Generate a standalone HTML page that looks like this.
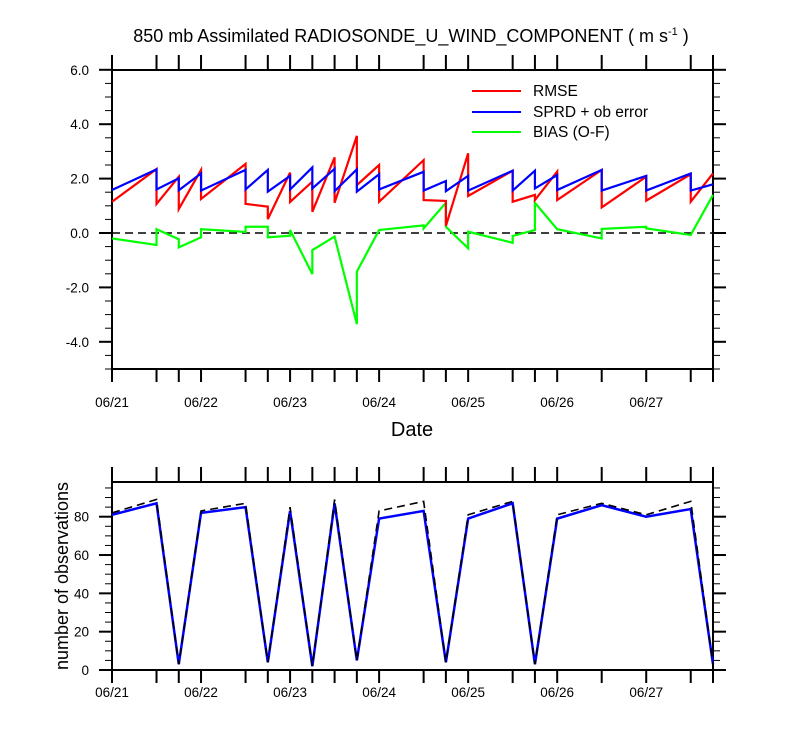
<!DOCTYPE html>
<html><head><meta charset="utf-8"><style>
html,body{margin:0;padding:0;background:#fff;}
svg{display:block;font-family:"Liberation Sans",Arial,sans-serif;}
</style></head><body>
<svg id="c" width="800" height="750" viewBox="0 0 800 750" xmlns="http://www.w3.org/2000/svg">
<text x="411" y="42" font-size="18" text-anchor="middle">850 mb Assimilated RADIOSONDE_U_WIND_COMPONENT ( m s<tspan font-size="11" dy="-7">-1</tspan><tspan dy="7"> )</tspan></text>
<text x="412" y="436" font-size="20" text-anchor="middle">Date</text>
<text transform="translate(68,576) rotate(-90)" font-size="18" text-anchor="middle">number of observations</text>
<g>
<line x1="472" y1="91" x2="521" y2="91" stroke="#ff0000" stroke-width="2"/>
<text x="533" y="96" font-size="15.5">RMSE</text>
<line x1="472" y1="112" x2="521" y2="112" stroke="#0000ff" stroke-width="2"/>
<text x="533" y="117" font-size="15.5">SPRD + ob error</text>
<line x1="472" y1="132" x2="521" y2="132" stroke="#00ff00" stroke-width="2"/>
<text x="533" y="137" font-size="15.5">BIAS (O-F)</text>
</g>
</svg>
<script>
const times=[0,0.5,0.75,1,1.5,1.75,2,2.25,2.5,2.75,3,3.5,3.75,4,4.5,4.75,5,5.5,6,6.5,6.75];
const dayLabels=["06/21","06/22","06/23","06/24","06/25","06/26","06/27"];
const yTicksTop=[-4,-2,0,2,4,6];
const yTicksBottom=[0,20,40,60,80];
const rmseStart=[1.15,1.07,0.88,1.25,1.07,0.51,1.14,0.78,1.11,1.76,1.15,1.21,0.26,1.36,1.15,1.21,1.21,0.94,1.19,1.15];
const rmseEnd=[2.35,2.07,2.32,2.54,0.97,2.22,1.89,2.78,3.57,2.5,2.68,1.18,2.93,2.29,1.40,2.26,2.32,2.07,2.16,2.19];
const sprdStart=[1.58,1.6,1.57,1.56,1.6,1.52,1.6,1.64,1.54,1.52,1.6,1.56,1.54,1.56,1.56,1.64,1.58,1.56,1.56,1.56];
const sprdEnd=[2.34,2.01,2.19,2.32,2.32,2.1,2.41,2.36,2.34,2.16,2.25,1.91,2.1,2.29,2.29,2.13,2.32,2.1,2.19,1.79];
const biasStart=[-0.2,0.14,-0.53,0.14,0.23,-0.16,0.11,-0.63,-0.13,-1.42,0.11,0.17,0.23,0.05,-0.11,1.11,0.14,0.15,0.17,-0.07];
const biasEnd=[-0.44,-0.23,-0.16,0.04,0.23,-0.1,-1.51,-0.13,-3.35,0.11,0.28,1.11,-0.56,-0.36,0.11,0.14,-0.2,0.23,-0.07,1.4];
const obsAssim=[81,87,3,82,85,4,83,2,87,5,79,83,4,79,87,3,79,86,80,84,3];
const obsTotal=[82,89,3,83,87,4,85,2,89,5,83,88,4,81,88,3,81,87,81,88,3];

const svg=document.getElementById('c');
const NS='http://www.w3.org/2000/svg';
const L=112,R=713;
const xS=t=>L+(R-L)*t/6.75;
const yTop=v=>233-v*27.2;
const yBot=v=>670-v*(670-516.7)/80;
function mk(tag,attrs,parent){const e=document.createElementNS(NS,tag);for(const k in attrs)e.setAttribute(k,attrs[k]);(parent||svg).appendChild(e);return e;}

function axes(top,bottom,yfun,ticks,minorStep,minV,maxV,fmt,labelY,name){
  const g=mk('g',{});
  
  
  times.forEach(t=>{
    const x=xS(t);
    const a=mk('line',{x1:x,y1:top,x2:x,y2:top-15,stroke:'#000','stroke-width':2},g);
    
    
    const b=mk('line',{x1:x,y1:bottom,x2:x,y2:bottom+13,stroke:'#000','stroke-width':2},g);
    
    
  });
  dayLabels.forEach((d,i)=>{
    const tx=mk('text',{x:xS(i),y:labelY,'font-size':13.5,'text-anchor':'middle'},g);
    tx.textContent=d;
    
    
  });
  for(let v=minV;v<=maxV+1e-9;v+=minorStep){
    const y=yfun(v);
    const major=ticks.some(t=>Math.abs(t-v)<1e-6);
    const len=major?13:7;
    const a=mk('line',{x1:L,y1:y,x2:L-len,y2:y,stroke:'#000','stroke-width':major?2:1},g);
    
    
    const b=mk('line',{x1:R,y1:y,x2:R+len,y2:y,stroke:'#000','stroke-width':major?2:1},g);
    
    
  }
  ticks.forEach(v=>{
    const tx=mk('text',{x:L-23,y:yfun(v)+5,'font-size':13.5,'text-anchor':'end'},g);
    tx.textContent=fmt(v);
    
    
  });
  const fr=mk('rect',{x:L,y:top,width:R-L,height:bottom-top,fill:'none',stroke:'#000','stroke-width':2},g);
  
  
}
axes(70,369,yTop,yTicksTop,0.5,-5,6,v=>v.toFixed(1),407,'top-plot');
axes(482,670,yBot,yTicksBottom,5,0,95,v=>String(v),697,'bottom-plot');

const z=mk('line',{x1:L,y1:yTop(0),x2:R,y2:yTop(0),stroke:'#000','stroke-width':1.5,'stroke-dasharray':'8,5'});



function sawtooth(s,e,color,name){
  let d='';
  for(let i=0;i<s.length;i++){
    d+=(i===0?'M':'L')+xS(times[i])+','+yTop(s[i])+'L'+xS(times[i+1])+','+yTop(e[i]);
  }
  const p=mk('path',{d:d,fill:'none',stroke:color,'stroke-width':2.2,'stroke-linejoin':'miter'});
  
  
}
sawtooth(biasStart,biasEnd,'#00ff00','bias-line');
sawtooth(rmseStart,rmseEnd,'#ff0000','rmse-line');
sawtooth(sprdStart,sprdEnd,'#0000ff','sprd-line');

function obsLine(vals,color,dash,w,name){
  const d=vals.map((v,i)=>(i?'L':'M')+xS(times[i])+','+yBot(v)).join('');
  const p=mk('path',{d:d,fill:'none',stroke:color,'stroke-width':w});
  if(dash)p.setAttribute('stroke-dasharray',dash);
  
  
}
obsLine(obsAssim,'#0000ff',null,2.5,'obs-assimilated-line');
obsLine(obsTotal,'#000000','8,5',1.6,'obs-total-line');
</script>
</body></html>
